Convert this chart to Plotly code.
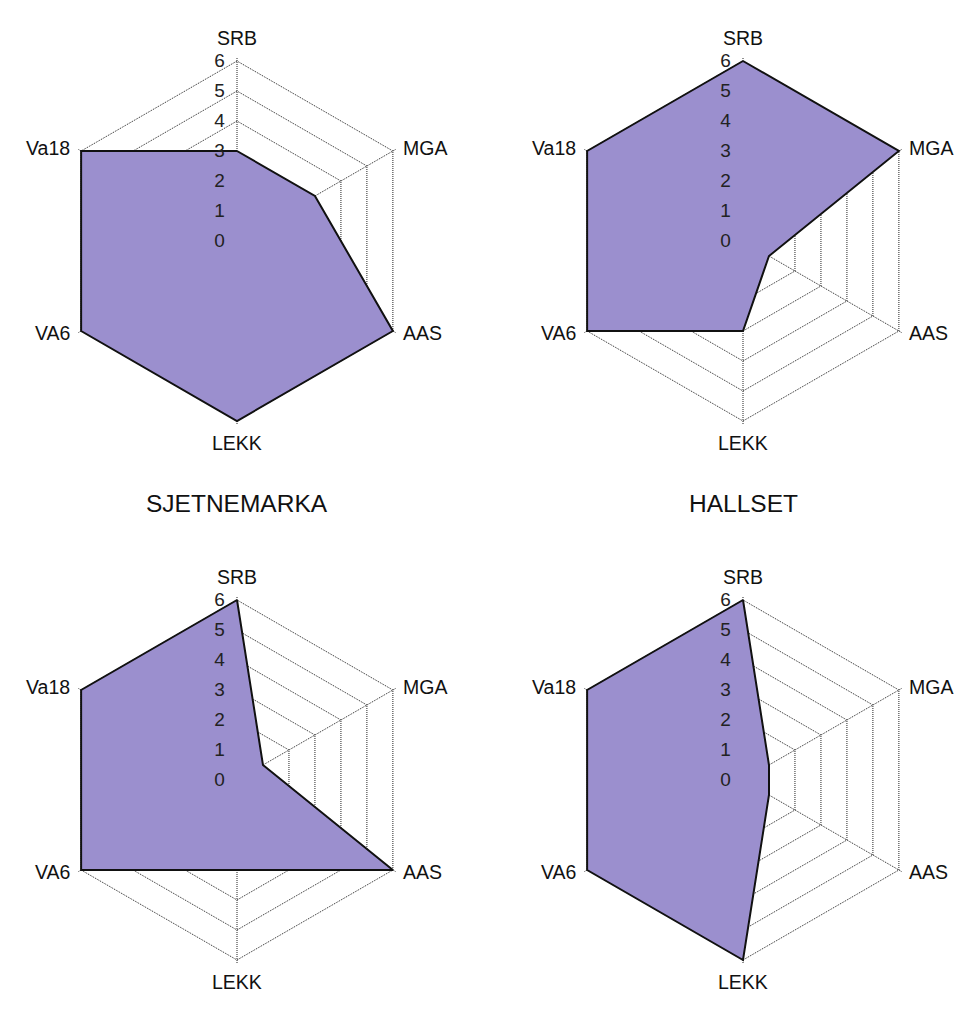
import math
import plotly.graph_objects as go

categories = ["SRB", "MGA", "AAS", "LEKK", "VA6", "Va18"]
top_left = [3, 3, 6, 6, 6, 6]
top_right = [6, 6, 1, 3, 6, 6]
bottom_left = [6, 1, 6, 3, 6, 6]
bottom_right = [6, 1, 1, 6, 6, 6]
titles = ["SJETNEMARKA", "HALLSET"]
radial_ticks = [0, 1, 2, 3, 4, 5, 6]

W, H = 961, 1014
R = 180            # pixel radius of the value 6
RMAX = 6.1         # radial range max (slightly above 6 so the outer grid ring is drawn)
RD = R * RMAX / 6  # half-size of each polar domain in pixels
centers = [(237, 241), (743, 241), (237, 780), (743, 780)]
series = [top_left, top_right, bottom_left, bottom_right]

fill_color = "#9b8fce"
grid_color = "#222222"
font_family = "Liberation Sans, Arial, sans-serif"
label_size = 19.5

fig = go.Figure()
layout = {}
for i, (vals, (cx, cy)) in enumerate(zip(series, centers)):
    name = "polar" if i == 0 else f"polar{i+1}"
    fig.add_trace(go.Scatterpolar(
        r=vals + vals[:1],
        theta=categories + categories[:1],
        mode="lines",
        fill="toself",
        fillcolor=fill_color,
        line=dict(color="#111111", width=2),
        subplot=name,
        showlegend=False,
        hoverinfo="skip",
    ))
    layout[name] = dict(
        domain=dict(x=[(cx - RD) / W, (cx + RD) / W],
                    y=[(H - cy - RD) / H, (H - cy + RD) / H]),
        gridshape="linear",
        bgcolor="white",
        radialaxis=dict(
            range=[0, RMAX], tickvals=radial_ticks, angle=90, side="counterclockwise",
            tickangle=90, showline=False, ticks="outside", ticklen=5,
            tickcolor="rgba(0,0,0,0)",
            gridcolor=grid_color, griddash="1px,1px", gridwidth=1,
            tickfont=dict(size=19, color="#222222", family=font_family),
            layer="above traces",
        ),
        angularaxis=dict(
            direction="clockwise", rotation=90, categoryorder="array",
            categoryarray=categories,
            gridcolor=grid_color, griddash="1px,1px", gridwidth=1,
            showline=False, ticks="", showticklabels=False,
            layer="above traces",
        ),
    )

    # category labels placed just outside each vertex of the hexagon
    for k, cat in enumerate(categories):
        ang = math.radians(90 - 60 * k)
        vx = (cx + R * math.cos(ang)) / W
        vy = (H - cy + R * math.sin(ang)) / H
        c = math.cos(ang)
        s = math.sin(ang)
        if abs(c) < 0.1:
            xanchor, xshift = "center", 0
            yshift = 23 if s > 0 else -22
        elif c > 0:
            xanchor, xshift = "left", 8
            yshift = 3 if s > 0 else -2
        else:
            xanchor, xshift = "right", -9
            yshift = 3 if s > 0 else -2
        fig.add_annotation(text=cat, x=vx, y=vy, xref="paper", yref="paper",
                           showarrow=False, xanchor=xanchor, yanchor="middle",
                           xshift=xshift, yshift=yshift,
                           font=dict(size=label_size, color="#111111", family=font_family))

fig.update_layout(**layout)
for t, (cx, _) in zip(titles, centers[:2]):
    fig.add_annotation(text=t, x=cx / W, y=(H - 503) / H, xref="paper", yref="paper",
                       showarrow=False, xanchor="center", yanchor="middle",
                       font=dict(size=24.5, color="#111111", family=font_family))

fig.update_layout(width=W, height=H, margin=dict(l=0, r=0, t=0, b=0),
                  paper_bgcolor="white", plot_bgcolor="white")
fig.write_html("out.html")
